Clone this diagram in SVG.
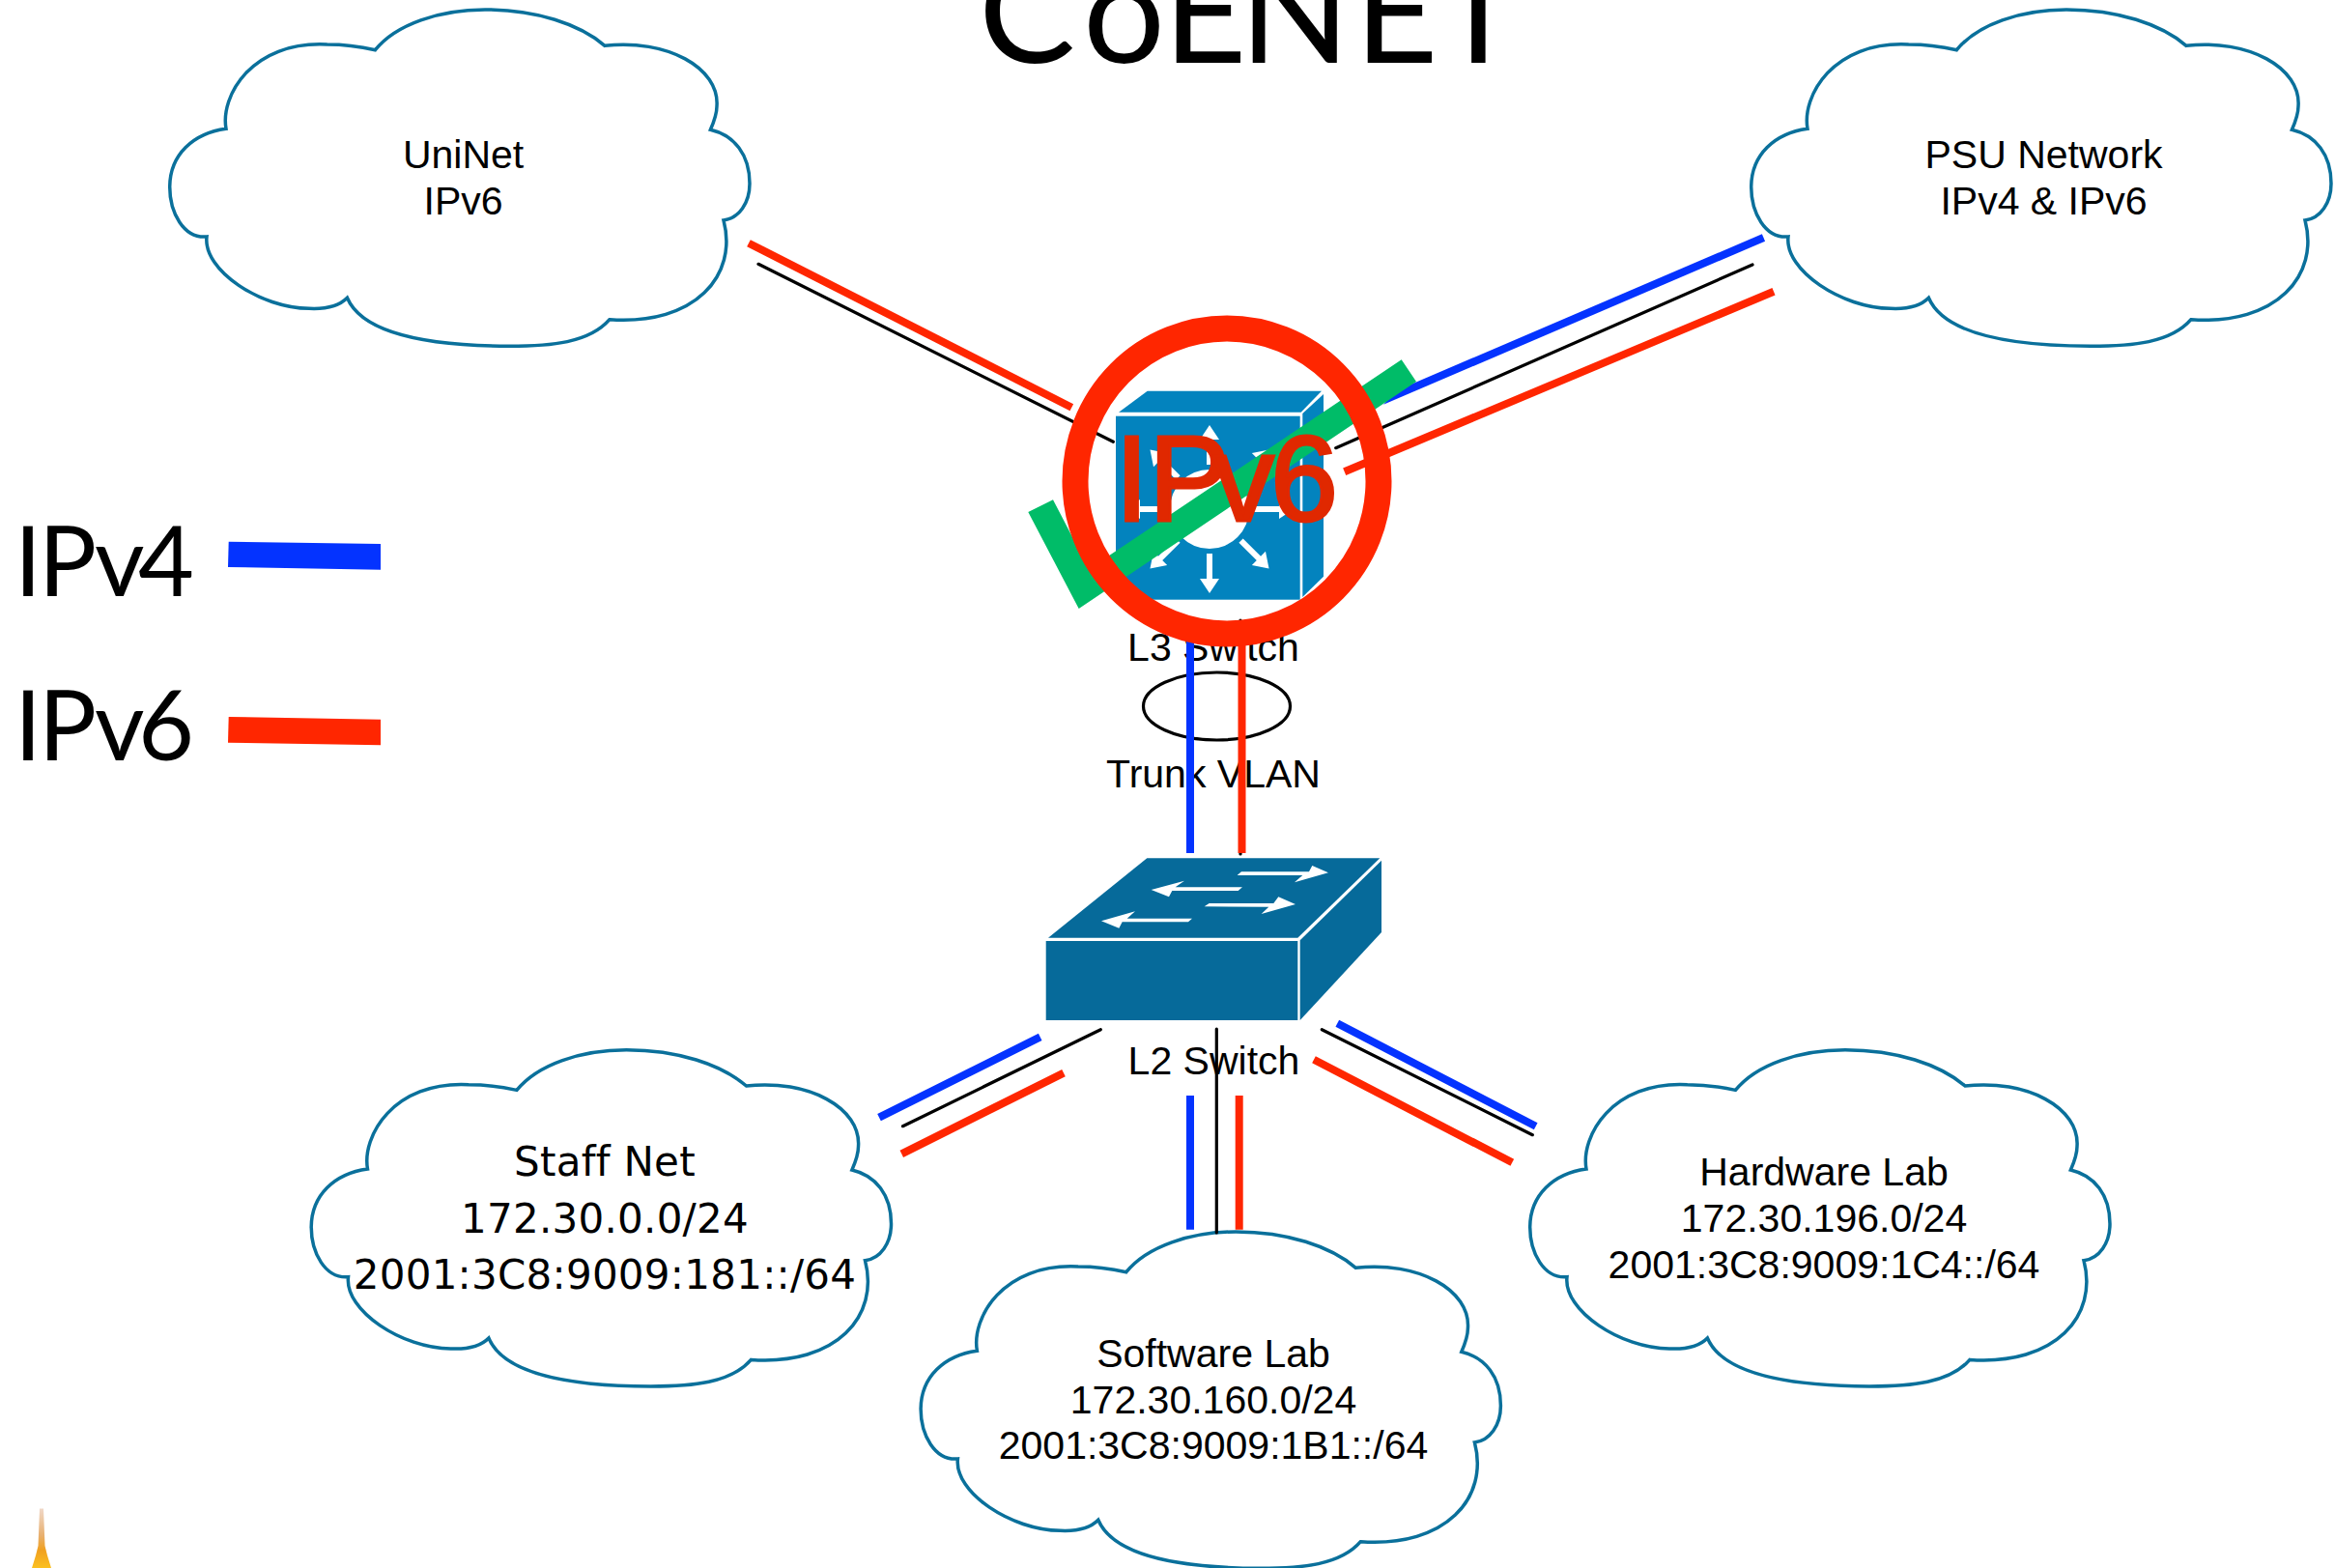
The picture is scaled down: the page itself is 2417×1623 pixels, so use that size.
<svg xmlns="http://www.w3.org/2000/svg" width="2417" height="1623" viewBox="0 0 2417 1623">
<style>
text{fill:#000}
.h{font-family:"Liberation Sans",Arial,sans-serif;font-size:41px;text-anchor:middle}
.d{font-family:"DejaVu Sans",sans-serif;font-size:42px;text-anchor:middle;font-weight:400;letter-spacing:.25px}
.g{font-family:Lato,"Open Sans",sans-serif}
.cloud{fill:#fff;stroke:#0A709B;stroke-width:3.5}
.b{stroke:#0433FF;stroke-width:8;fill:none}
.r{stroke:#FF2600;stroke-width:8;fill:none}
.k{stroke:#000;stroke-width:3.2;fill:none;stroke-linecap:round}
.w{fill:#fff}
</style>
<defs>
<path id="cloudshape" d="M388.4 51.7C410 25 455 10 502 10C555 10 600 25 626 47.3C690 40 745 70 742 110C742 118 739 126 735.4 134.3C760 140 776 160 776 190C776 210 765 226 749 228C764 285 720 337 631 330.7C610 355 570 358.3 527 358.3C440 358 375 345 359.4 308.3C350 318 335 320 320 319.3C270 319 210 280 214 245C190 247 175.7 220 175.7 193.3C176 160 200 138 234 133.3C228 100 260 42 338.6 46C355 46 372 48 388.4 51.7Z"/>
<polygon id="arrow" points="-3,-46 3,-46 3,-72 10,-72 0,-87 -10,-72 -3,-72"/>
<linearGradient id="tower" x1="0" y1="0" x2="0" y2="1">
<stop offset="0" stop-color="#F0D8C8"/>
<stop offset="0.45" stop-color="#E8B070"/>
<stop offset="0.7" stop-color="#F0A020"/>
<stop offset="1" stop-color="#FBC020"/>
</linearGradient>
</defs>

<text id="title" class="g" font-size="150" y="65" x="1013 1121 1204 1283 1402 1486">CoENET</text>

<g id="legend">
<text class="g" font-size="100" y="617" x="15 40 98 143">IPv4</text>
<polygon points="236.7,560.7 394,563 394,589.7 236,587" fill="#0433FF"/>
<text class="g" font-size="100" y="787" x="15 40 98 143">IPv6</text>
<polygon points="236.7,742 394,744.7 394,771.3 236,768.7" fill="#FF2600"/>
</g>

<g id="uninet"><use href="#cloudshape" class="cloud"/>
<text class="h" x="479.6" y="173.5">UniNet</text><text class="h" x="479.6" y="222">IPv6</text></g>
<g id="psu"><use href="#cloudshape" class="cloud" x="1637"/>
<text class="h" x="2115.5" y="173.5">PSU Network</text><text class="h" x="2115.5" y="222">IPv4 &amp; IPv6</text></g>
<g id="staff"><use href="#cloudshape" class="cloud" x="146.5" y="1076.7"/>
<text class="d" x="626" y="1217">Staff Net</text><text class="d" x="626" y="1276">172.30.0.0/24</text><text class="d" x="626" y="1334">2001:3C8:9009:181::/64</text></g>
<g id="software"><use href="#cloudshape" class="cloud" x="777.4" y="1265"/>
<text class="h" x="1256" y="1414.8">Software Lab</text><text class="h" x="1256" y="1462.7">172.30.160.0/24</text><text class="h" x="1256" y="1510">2001:3C8:9009:1B1::/64</text></g>
<g id="hardware"><use href="#cloudshape" class="cloud" x="1408" y="1076.7"/>
<text class="h" x="1888" y="1226.7">Hardware Lab</text><text class="h" x="1888" y="1275">172.30.196.0/24</text><text class="h" x="1888" y="1322.7">2001:3C8:9009:1C4::/64</text></g>

<g id="l2-switch">
<g fill="#066A9A">
<polygon points="1085,970.7 1187.3,888.3 1428.3,888.3 1343.3,970.7"/>
<rect x="1082.7" y="974" width="260.6" height="82"/>
<polygon points="1345.7,973.3 1430,890.7 1430,965 1345.7,1056"/>
</g>
<g class="w" transform="translate(1040 860) scale(.3333)">
<polygon points="722,138 735,127 945,127 955,108 1005,130 900,160 925,138"/>
<polygon points="738,175 530,175 558,155 455,183 510,205 520,186 725,186"/>
<polygon points="620,235 635,225 835,225 850,205 903,228 797,258 820,236"/>
<polygon points="582,272 380,272 405,250 300,280 355,302 365,283 570,283"/>
</g>
<text class="h" x="1256.5" y="1111.7">L2 Switch</text>
</g>

<g id="l3-switch">
<g fill="#0383BE">
<polygon points="1158,426.7 1187.7,404.7 1368,404.7 1346.7,426.7"/>
<rect x="1155" y="430.7" width="190.7" height="190"/>
<polygon points="1348.3,428 1370,408 1370,596.7 1348.3,618"/>
</g>
<g class="w" transform="translate(1252 527)">
<circle r="41"/>
<use href="#arrow"/>
<use href="#arrow" transform="rotate(45)"/>
<use href="#arrow" transform="rotate(90)"/>
<use href="#arrow" transform="rotate(135)"/>
<use href="#arrow" transform="rotate(180)"/>
<use href="#arrow" transform="rotate(225)"/>
<use href="#arrow" transform="rotate(270)"/>
<use href="#arrow" transform="rotate(315)"/>
</g>
<text class="h" x="1256" y="683.5">L3 Switch</text>
</g>

<g id="trunk">
<ellipse cx="1259.5" cy="731" rx="76" ry="35" fill="none" stroke="#000" stroke-width="3.2"/>
<text class="h" x="1256" y="814.5">Trunk VLAN</text>
</g>

<g id="connectors">
<line class="r" x1="775" y1="251.7" x2="1109.3" y2="421.7"/>
<line class="k" x1="785" y1="273.3" x2="1152.3" y2="457.3"/>
<polygon points="1823.9,242.3 1827.1,249.7 1432,418.8 1445,404.5" fill="#0433FF"/>
<line class="k" x1="1814" y1="274" x2="1382.7" y2="463.7"/>
<line class="r" x1="1836" y1="301.7" x2="1391.7" y2="488.3"/>
<line class="k" x1="1284" y1="642" x2="1284" y2="884"/>
<line class="b" x1="1232" y1="650" x2="1232" y2="883"/>
<line class="r" x1="1285.5" y1="650" x2="1285.5" y2="883"/>
<line class="b" x1="1076.7" y1="1073.3" x2="910" y2="1156.7"/>
<line class="k" x1="1139.3" y1="1065.7" x2="934.5" y2="1165.7"/>
<line class="r" x1="1101" y1="1110.7" x2="933.3" y2="1194.3"/>
<line class="b" x1="1232" y1="1134" x2="1232" y2="1272.7"/>
<line class="k" x1="1259.3" y1="1065" x2="1259.3" y2="1276"/>
<line class="r" x1="1282.7" y1="1134" x2="1282.7" y2="1272.7"/>
<line class="b" x1="1384.3" y1="1059.3" x2="1589.7" y2="1165.7"/>
<line class="k" x1="1368.3" y1="1065.7" x2="1586.3" y2="1174.7"/>
<line class="r" x1="1360" y1="1096.7" x2="1565.3" y2="1203.3"/>
</g>

<g id="ipv6-check">
<polygon points="1064.3,530 1090,517.3 1127.3,589 1450.7,372.3 1466,395 1116.7,630" fill="#00BC68"/>
<text font-family="Liberation Sans,Arial,sans-serif" font-size="126" y="539" x="1154 1189 1256 1315" stroke="#E02800" stroke-width="3" style="fill:#E02800">IPv6</text>
<ellipse cx="1270" cy="498" rx="157" ry="158" fill="none" stroke="#FF2600" stroke-width="27"/>
</g>

<polygon id="tower-shape" points="41,1561.5 45,1561.5 46.5,1600 49,1610 53,1623 33,1623 37,1610 39.5,1600" fill="url(#tower)"/>
</svg>
